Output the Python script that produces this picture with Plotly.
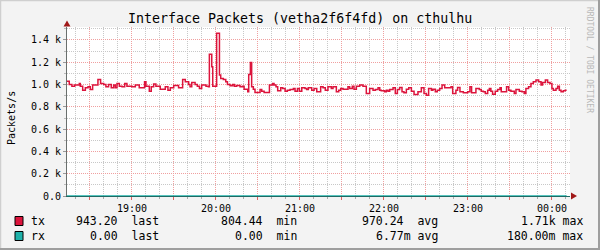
import plotly.graph_objects as go
import pandas as pd

# ---------------- data ----------------
tx_minutes = [13.6, 15.2, 17.1, 19.1, 22.4, 23.1, 24.8, 26.7, 28.6, 30.2, 31.9, 35.7, 37.6, 39.8, 41.4,
              43.3, 45.2, 46.9, 48.1, 49.3, 51.0, 52.9, 54.8, 56.4, 60.0, 62.4, 65.2, 69.0, 70.0, 72.4,
              73.8, 75.5, 77.1, 80.2, 83.8, 85.7, 87.4, 89.8, 93.3, 96.2, 98.1, 100.5, 101.5, 102.7,
              105.1, 106.7, 108.2, 109.8, 112.9, 114.6, 115.3, 117.0, 117.7, 120.5, 122.5, 123.4,
              125.3, 127.0, 128.2, 130.1, 132.0, 133.2, 134.8, 137.2, 138.9, 140.1, 142.7, 143.4,
              144.6, 145.5, 146.7, 147.9, 151.5, 152.7, 154.4, 158.2, 160.5, 161.5, 162.9, 164.1,
              166.3, 167.7, 169.4, 171.0, 172.9, 175.3, 176.5, 178.2, 179.6, 181.3, 183.6, 184.8,
              186.0, 188.4, 190.1, 192.0, 194.8, 196.5, 198.1, 200.0, 202.4, 203.6, 206.0, 207.7,
              209.1, 210.8, 214.3, 215.5, 217.4, 218.6, 220.3, 222.7, 225.0, 227.4, 229.8, 232.2,
              233.9, 235.8, 237.0, 238.1, 240.5, 241.7, 242.9, 244.1, 246.5, 248.1, 249.6, 251.2,
              252.9, 254.3, 256.0, 257.7, 259.6, 261.5, 264.3, 266.7, 268.6, 270.3, 271.9, 273.9,
              275.0, 276.7, 278.1, 279.8, 281.5, 283.4, 287.9, 289.1, 291.4, 292.6, 294.3, 296.7,
              299.8, 301.4, 302.6, 305.7, 308.1, 309.5, 311.0, 312.4, 314.1, 315.3, 316.4, 317.6,
              319.5, 321.2, 322.9, 323.8, 327.6, 329.1, 330.7, 333.1, 334.3, 336.7, 338.6, 340.3,
              341.4, 343.3, 345.0, 346.7, 348.6, 350.5, 352.2, 353.3, 355.3, 356.9, 358.6, 360.0,
              361.0, 362.9, 364.1, 365.3, 366.5, 368.1, 369.5, 370.5]
tx_values = [1030, 1001, 986, 995, 1010, 986, 950, 971, 980, 956, 995, 1046, 1010, 1001, 980,
             1001, 971, 995, 971, 1010, 986, 980, 1010, 986, 980, 995, 971, 1025, 986, 941,
             980, 1004, 986, 959, 980, 950, 971, 992, 971, 1046, 1025, 1001, 980, 1019,
             1001, 986, 965, 995, 986, 980, 1271, 1160, 986, 1460, 1085, 1055,
             1046, 1025, 1001, 989, 1001, 986, 992, 980, 986, 959, 935, 1091,
             1199, 980, 959, 929, 956, 941, 929, 995, 1010, 995, 980, 944,
             971, 965, 941, 950, 956, 965, 941, 965, 941, 971, 965, 956,
             971, 950, 965, 935, 980, 971, 950, 980, 965, 980, 935, 950,
             965, 959, 980, 965, 986, 959, 986, 995, 986, 920, 965, 950,
             956, 971, 950, 944, 935, 950, 941, 956, 971, 920, 956, 974,
             935, 926, 959, 971, 941, 911, 935, 971, 920, 905, 965, 950,
             959, 935, 950, 965, 995, 971, 980, 920, 950, 974, 935, 926,
             935, 980, 926, 965, 956, 941, 935, 920, 950, 965, 941, 914,
             941, 956, 971, 935, 980, 950, 941, 920, 956, 941, 935, 920,
             965, 980, 1010, 1025, 1040, 1025, 995, 1019, 1040, 1019, 1010, 965,
             950, 965, 986, 950, 935, 944, 950, 950]
rx_minutes = [13.6, 370.5]
rx_values = [0.0, 0.0]

y_tick_values = [0, 200, 400, 600, 800, 1000, 1200, 1400]
y_tick_labels = ["0.0", "0.2 k", "0.4 k", "0.6 k", "0.8 k", "1.0 k", "1.2 k", "1.4 k"]
x_tick_minutes = [30, 60, 90, 120, 150, 180, 210, 240, 270, 300, 330, 360]
x_tick_labels = ["", "19:00", "", "20:00", "", "21:00", "", "22:00", "", "23:00", "", "00:00"]

series_names = ["tx", "rx"]
series_colors = ["#DC143C", "#20B2AA"]
stat_names = ["last", "min", "avg", "max"]
tx_stats = ["943.20 ", "804.44 ", "970.24 ", "1.71k"]
rx_stats = ["0.00 ", "0.00 ", "6.77m", "180.00m"]

# ---------------- geometry ----------------
W, H = 600, 250
L, R, T, B = 67, 30, 27, 54
PW, PH = W - L - R, H - T - B
Y_MAX = 1516.6
X_END = 372.9


def px(x):
    return (x - L) / PW


def py(y):
    return (H - B - y) / PH


base = pd.Timestamp("2024-01-01 18:00")


def tm(m):
    return base + pd.to_timedelta(m, unit="m")


FONT = "DejaVu Sans Mono"
MGRID = "#F0A0A0"
GRID = "#C8C8C8"
DASH = "1px,1px"
NB = "\u00a0"

fig = go.Figure()
fig.add_trace(go.Scatter(x=[tm(m) for m in tx_minutes], y=tx_values, mode="lines",
                         line=dict(color=series_colors[0], width=1.5, shape="hv"), hoverinfo="skip"))
fig.add_trace(go.Scatter(x=[tm(m) for m in rx_minutes], y=rx_values, mode="lines",
                         line=dict(color=series_colors[1], width=1.5, shape="hv"), hoverinfo="skip"))

fig.update_layout(
    width=W, height=H, margin=dict(l=L, r=R, t=T, b=B, pad=0),
    paper_bgcolor="#F3F3F3", plot_bgcolor="#FFFFFF", showlegend=False,
    font=dict(family=FONT, size=10, color="#000000"),
    xaxis=dict(
        range=[tm(13.6), tm(X_END)],
        tickmode="array", tickvals=[tm(m) for m in x_tick_minutes], ticktext=x_tick_labels,
        showgrid=True, gridcolor=MGRID, griddash=DASH, gridwidth=1,
        ticks="outside", ticklen=3, tickcolor="#E06060", tickfont=dict(family=FONT, size=10),
        showline=True, linecolor="#1E6A64", linewidth=1, zeroline=False,
        minor=dict(dtick=10 * 60 * 1000, tick0=tm(0), showgrid=True, gridcolor=GRID,
                   griddash=DASH, gridwidth=1, ticks="outside", ticklen=2, tickcolor="#AAAAAA"),
    ),
    yaxis=dict(
        range=[0, Y_MAX],
        tickmode="array", tickvals=y_tick_values, ticktext=y_tick_labels,
        showgrid=True, gridcolor=MGRID, griddash=DASH, gridwidth=1,
        ticks="outside", ticklen=3, tickcolor="#999999", tickfont=dict(family=FONT, size=10),
        showline=True, linecolor="#6A6F6D", linewidth=1, zeroline=False,
        minor=dict(dtick=100, tick0=0, showgrid=True, gridcolor=GRID, griddash=DASH,
                   gridwidth=1, ticks="outside", ticklen=2, tickcolor="#BBBBBB"),
    ),
)

shapes = []
# 3D border
shapes.append(dict(type="line", xref="paper", yref="paper", x0=px(0), x1=px(W), y0=py(0.5), y1=py(0.5),
                   line=dict(color="#CFCFCF", width=1.5)))
shapes.append(dict(type="line", xref="paper", yref="paper", x0=px(0.5), x1=px(0.5), y0=py(0), y1=py(H),
                   line=dict(color="#CFCFCF", width=1.5)))
shapes.append(dict(type="line", xref="paper", yref="paper", x0=px(0), x1=px(W), y0=py(H - 1), y1=py(H - 1),
                   line=dict(color="#9E9E9E", width=2)))
shapes.append(dict(type="line", xref="paper", yref="paper", x0=px(W - 1), x1=px(W - 1), y0=py(0), y1=py(H),
                   line=dict(color="#9E9E9E", width=2)))
# axis arrows
ARROW = "#A01818"
shapes.append(dict(type="path", xref="paper", yref="paper",
                   path=f"M {px(63.5)} {py(26.5)} L {px(70.5)} {py(26.5)} L {px(67)} {py(20.5)} Z",
                   fillcolor=ARROW, line=dict(color=ARROW, width=0)))
shapes.append(dict(type="path", xref="paper", yref="paper",
                   path=f"M {px(571)} {py(192.5)} L {px(571)} {py(199.5)} L {px(577)} {py(196)} Z",
                   fillcolor=ARROW, line=dict(color=ARROW, width=0)))

annotations = []
annotations.append(dict(text="Interface Packets (vetha2f6f4fd) on cthulhu", xref="paper", yref="paper",
                        x=px(300), y=py(19), xanchor="center", yanchor="middle", showarrow=False,
                        font=dict(family=FONT, size=13.3, color="#000000")))
annotations.append(dict(text="Packets/s", xref="paper", yref="paper", x=px(11), y=py(118),
                        xanchor="center", yanchor="middle", showarrow=False, textangle=-90,
                        font=dict(family=FONT, size=10, color="#000000")))
annotations.append(dict(text="RRDTOOL / TOBI OETIKER", xref="paper", yref="paper", x=px(590), y=py(60),
                        xanchor="center", yanchor="middle", showarrow=False, textangle=90,
                        font=dict(family=FONT, size=8, color="#B8B8B8")))

# legend
LEG = 11.5
stat_ends = [159, 297, 438, 583]
for i, (name, color, stats) in enumerate(zip(series_names, series_colors, [tx_stats, rx_stats])):
    yc = 221 + 15 * i
    shapes.append(dict(type="rect", xref="paper", yref="paper", x0=px(15), x1=px(23),
                       y0=py(yc - 4.5), y1=py(yc + 4.5), fillcolor=color,
                       line=dict(color="#000000", width=1)))
    annotations.append(dict(text=name, xref="paper", yref="paper", x=px(29), y=py(yc),
                            xanchor="left", yanchor="middle", showarrow=False,
                            font=dict(family=FONT, size=LEG)))
    for val, lab, xe in zip(stats, stat_names, stat_ends):
        txt = (val + " " + lab).replace(" ", NB)
        annotations.append(dict(text=txt, xref="paper", yref="paper", x=px(xe + 1.5), y=py(yc),
                                xanchor="right", yanchor="middle", showarrow=False,
                                font=dict(family=FONT, size=LEG)))

fig.update_layout(shapes=shapes, annotations=annotations)
fig.write_html("out.html")
